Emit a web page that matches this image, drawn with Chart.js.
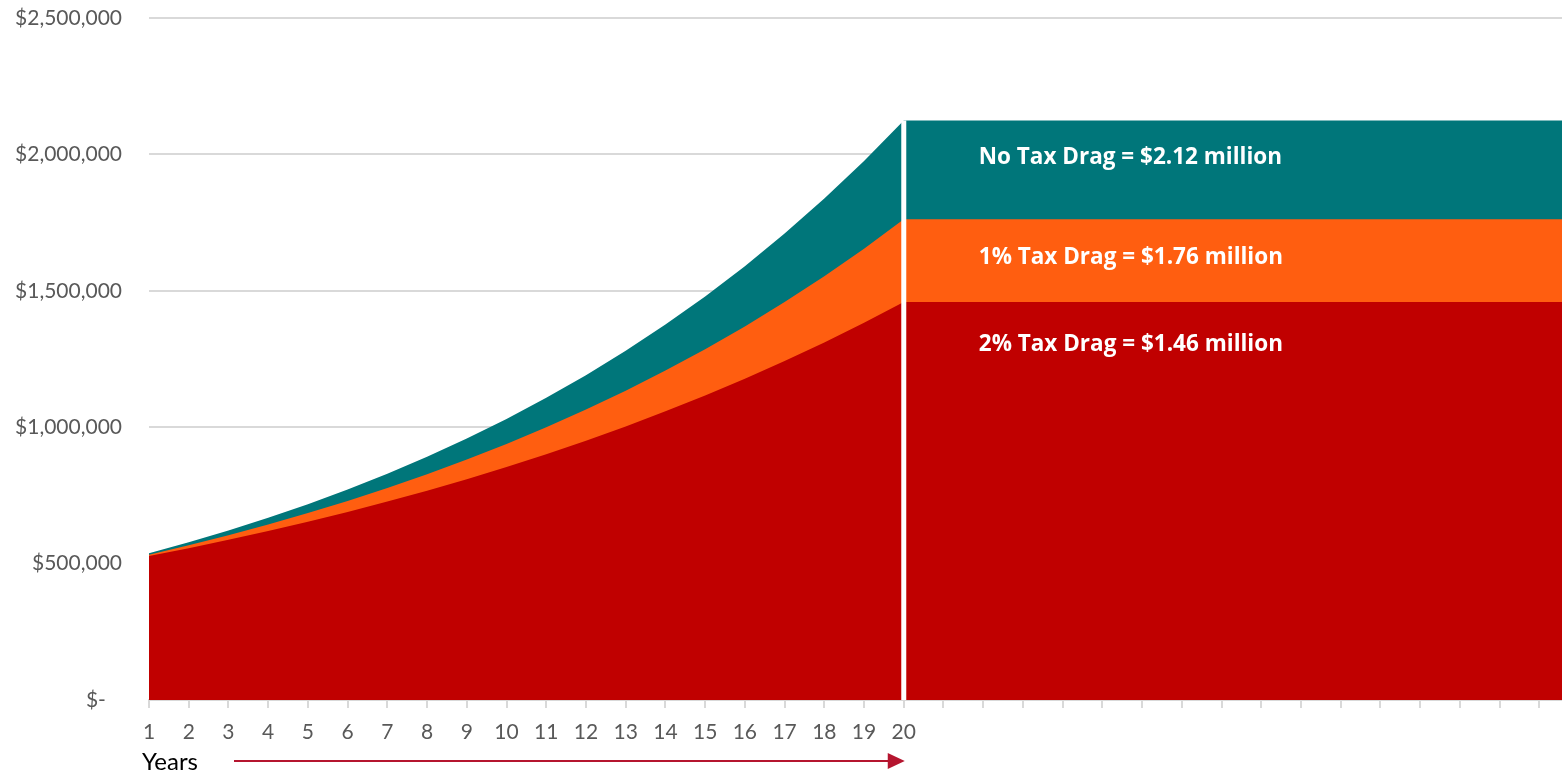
<!DOCTYPE html>
<html>
<head>
<meta charset="utf-8">
<script src="https://cdn.jsdelivr.net/npm/chart.js@4.4.1/dist/chart.umd.min.js"></script>
<style>
  html, body { margin: 0; padding: 0; background: #ffffff; }
  canvas { display: block; }
</style>
</head>
<body>
<canvas id="c" width="1562" height="774"></canvas>
<script>
// ---- data ----
const years = [1,2,3,4,5,6,7,8,9,10,11,12,13,14,15,16,17,18,19,20];
const noTaxDrag = [537500,577813,621148,667734,717815,771651,829525,891739,958620,1030516,
                   1107805,1190890,1280207,1376222,1479439,1590397,1709676,1837902,1975745,2123926];
const taxDrag1 = [532500,567113,603975,643233,685043,729571,776994,827498,881285,938569,
                  999576,1064548,1133744,1207437,1285921,1369506,1458523,1553327,1654294,1761823];
const taxDrag2 = [527500,556513,587121,619413,653480,689422,727340,767344,809547,854072,
                  901046,950604,1002887,1058046,1116238,1177632,1242401,1310733,1382824,1458879];
const seriesLabels = ['No Tax Drag = $2.12 million', '1% Tax Drag = $1.76 million', '2% Tax Drag = $1.46 million'];
const yTicks = [0, 500000, 1000000, 1500000, 2000000, 2500000];
const xAxisTitle = 'Years';
const extendTo = 37;   // flat continuation of final values to the right
const axisMax = 36.57;

const COLORS = { teal: '#00767A', orange: '#FF5E10', red: '#C00000' };

function toPoints(vals) {
  const pts = years.map((y, i) => ({ x: y, y: vals[i] }));
  pts.push({ x: extendTo, y: vals[vals.length - 1] });
  return pts;
}

const annotationPlugin = {
  id: 'annots',
  afterDatasetsDraw(chart) {
    const ctx = chart.ctx;
    const xs = chart.scales.x, ys = chart.scales.y;
    const last = years.length - 1;
    const lx = xs.getPixelForValue(years[last]) + 75;
    ctx.save();
    ctx.fillStyle = '#ffffff';
    ctx.font = 'bold 22.5px "Open Sans"';
    ctx.textBaseline = 'middle';
    ctx.textAlign = 'left';
    ctx.fillText(seriesLabels[0], lx, ys.getPixelForValue(noTaxDrag[last]) + 37);
    ctx.fillText(seriesLabels[1], lx, ys.getPixelForValue(taxDrag1[last]) + 38);
    ctx.fillText(seriesLabels[2], lx, ys.getPixelForValue(taxDrag2[last]) + 43);
    ctx.restore();
  },
  afterDraw(chart) {
    const ctx = chart.ctx;
    const xs = chart.scales.x;
    const area = chart.chartArea;
    const yLine = area.bottom + 61;
    ctx.save();
    ctx.fillStyle = '#000000';
    ctx.font = '24px Lato';
    ctx.textBaseline = 'middle';
    ctx.textAlign = 'left';
    ctx.fillText(xAxisTitle, area.left - 7, yLine + 1);
    const x0 = area.left + 85;
    const x1 = xs.getPixelForValue(years[years.length - 1]);
    ctx.strokeStyle = '#B5152F';
    ctx.fillStyle = '#B5152F';
    ctx.lineWidth = 2;
    ctx.beginPath();
    ctx.moveTo(x0, yLine);
    ctx.lineTo(x1 - 14, yLine);
    ctx.stroke();
    ctx.beginPath();
    ctx.moveTo(x1 - 16, yLine - 8);
    ctx.lineTo(x1 + 1, yLine);
    ctx.lineTo(x1 - 16, yLine + 8);
    ctx.closePath();
    ctx.fill();
    ctx.restore();
  }
};

new Chart(document.getElementById('c'), {
  type: 'line',
  data: {
    datasets: [
      {
        label: 'divider',
        data: [{ x: years[years.length - 1], y: 0 }, { x: years[years.length - 1], y: noTaxDrag[noTaxDrag.length - 1] }],
        borderColor: '#ffffff', borderWidth: 5, borderCapStyle: 'butt',
        fill: false, pointRadius: 0, order: 0
      },
      {
        label: '2% Tax Drag', data: toPoints(taxDrag2),
        backgroundColor: COLORS.red, borderColor: COLORS.red, borderWidth: 0,
        fill: 'origin', pointRadius: 0, tension: 0, order: 1
      },
      {
        label: '1% Tax Drag', data: toPoints(taxDrag1),
        backgroundColor: COLORS.orange, borderColor: COLORS.orange, borderWidth: 0,
        fill: 'origin', pointRadius: 0, tension: 0, order: 2
      },
      {
        label: 'No Tax Drag', data: toPoints(noTaxDrag),
        backgroundColor: COLORS.teal, borderColor: COLORS.teal, borderWidth: 0,
        fill: 'origin', pointRadius: 0, tension: 0, order: 3
      }
    ]
  },
  options: {
    responsive: false,
    animation: false,
    events: [],
    layout: { padding: { top: 18, right: 0, bottom: 0, left: 0 } },
    plugins: { legend: { display: false }, tooltip: { enabled: false } },
    scales: {
      x: {
        type: 'linear', min: 1, max: axisMax,
        afterFit: s => { s.height = 74; s.paddingLeft = 0; s.paddingRight = 0; },
        grid: { drawOnChartArea: false, drawTicks: true, tickLength: 8, color: '#d9d9d9', lineWidth: 2 },
        border: { display: true, color: '#d9d9d9', width: 2 },
        ticks: {
          stepSize: 1, autoSkip: false, maxRotation: 0, minRotation: 0, includeBounds: false,
          padding: 12, color: '#595959', font: { family: 'Lato', size: 21 },
          callback: v => (Number.isInteger(v) && years.includes(v)) ? String(v) : ''
        }
      },
      y: {
        min: yTicks[0], max: yTicks[yTicks.length - 1],
        afterFit: s => { s.width = 149; s.paddingTop = 0; s.paddingBottom = 0; },
        afterBuildTicks: s => { s.ticks = yTicks.map(v => ({ value: v })); },
        grid: { color: '#d9d9d9', lineWidth: 2, drawTicks: false },
        border: { display: false },
        ticks: {
          padding: 27, color: '#595959', font: { family: 'Lato', size: 21 },
          callback: v => v === 0 ? '$-   ' : '$' + v.toLocaleString('en-US')
        }
      }
    }
  },
  plugins: [annotationPlugin]
});
</script>
</body>
</html>
